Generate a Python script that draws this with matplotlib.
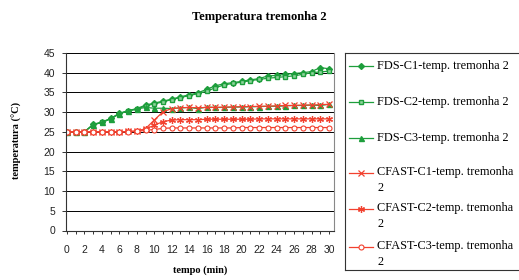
"""Temperatura tremonha 2: FDS vs CFAST, three cases each."""

import matplotlib

matplotlib.use("Agg")
import matplotlib.pyplot as plt

tempo = list(range(31))

fds_c1 = [25, 25, 25, 26.9, 27.5, 28.4, 29.7, 30.4, 30.9, 31.8, 32.3, 32.8, 33.3, 33.9, 34.4, 34.9,
          35.8, 36.7, 37.2, 37.5, 37.8, 38.2, 38.5, 39.2, 39.3, 39.6, 39.8, 40.0, 40.3, 41.3, 41.0]
fds_c2 = [25, 25, 25, 26.8, 27.4, 28.3, 29.6, 30.3, 30.8, 31.6, 32.1, 32.6, 33.2, 33.7, 34.2, 34.7,
          35.3, 36.2, 36.9, 37.3, 37.6, 38.0, 38.3, 38.6, 38.8, 39.0, 39.2, 39.6, 40.0, 40.2, 40.4]
fds_c3 = [25, 25, 25, 26.8, 27.4, 28.3, 29.6, 30.3, 30.8, 31.2, 31.0, 31.0, 30.9, 31.1, 31.2, 30.9,
          31.3, 31.2, 31.2, 31.3, 31.3, 31.4, 31.4, 31.5, 31.5, 31.6, 31.7, 31.7, 31.8, 31.7, 32.0]
cfast_c1 = [25, 25, 25, 25, 25, 25, 25, 25.1, 25.2, 25.8, 28.0, 30.1, 30.9, 31.1, 31.2, 31.1,
            31.2, 31.2, 31.3, 31.3, 31.4, 31.4, 31.5, 31.5, 31.6, 31.7, 31.7, 31.8, 31.8, 31.9, 32.0]
cfast_c2 = [25, 25, 25, 25, 25, 25, 25, 25.1, 25.2, 25.7, 26.7, 27.6, 28.0, 28.1, 28.1, 28.1,
            28.2, 28.2, 28.2, 28.2, 28.2, 28.2, 28.3, 28.3, 28.3, 28.3, 28.3, 28.3, 28.3, 28.3, 28.3]
cfast_c3 = [25, 25, 25, 25, 25, 25, 25, 25.0, 25.1, 25.4, 25.6, 25.9, 26.0, 26.0, 26.0, 26.0,
            26.0, 26.0, 26.0, 26.0, 26.1, 26.1, 26.1, 26.1, 26.1, 26.1, 26.1, 26.1, 26.1, 26.1, 26.1]

labels = [
    "FDS-C1-temp. tremonha 2",
    "FDS-C2-temp. tremonha 2",
    "FDS-C3-temp. tremonha 2",
    "CFAST-C1-temp. tremonha\n2",
    "CFAST-C2-temp. tremonha\n2",
    "CFAST-C3-temp. tremonha\n2",
]

GREEN = "#1e9e3c"
RED = "#f2412f"
colors = [GREEN, GREEN, GREEN, RED, RED, RED]
markers = [
    dict(marker="D", markersize=3, markerfacecolor=GREEN),
    dict(marker="s", markersize=3.2, markerfacecolor="#8fd49c"),
    dict(marker="^", markersize=3.6, markerfacecolor=GREEN),
    dict(marker="x", markersize=4.5, markeredgewidth=0.9),
    dict(marker=(6, 2, 0), markersize=5, markeredgewidth=0.9),
    dict(marker="o", markersize=3.6, markerfacecolor="white", markeredgewidth=0.8),
]
series = [fds_c1, fds_c2, fds_c3, cfast_c1, cfast_c2, cfast_c3]

W, H = 519, 280
fig = plt.figure(figsize=(W / 100, H / 100), dpi=100)
ax = fig.add_axes([66 / W, 1 - 230.5 / H, (334 - 66) / W, (230.5 - 53) / H])

for vals, c, mk in zip(series, colors, markers):
    ax.plot(tempo, vals, color=c, linewidth=0.9, **mk)

ax.set_xlim(-0.1, 30.57)
ax.set_ylim(0, 45)
ax.set_xticks(range(0, 31, 2))
ax.set_xticks(range(0, 31), minor=True)
ax.set_yticks(range(0, 46, 5))
ax.yaxis.grid(True, color="black", linewidth=0.7)
ax.set_axisbelow(True)
ax.spines["top"].set_visible(False)
ax.spines["right"].set_color("#888888")
ax.spines["left"].set_color("#333333")
ax.spines["bottom"].set_color("#333333")
ax.tick_params(axis="x", which="both", direction="out", length=2.5, width=0.7, color="#333333")
ax.tick_params(axis="x", which="major", pad=8, labelsize=7.5)
ax.tick_params(axis="y", direction="out", length=3, width=0.7, pad=5, labelsize=7.5, color="#333333")
for lab in ax.get_xticklabels() + ax.get_yticklabels():
    lab.set_family("Liberation Sans")
    lab.set_color("#222222")

fig.text(259.5 / W, 1 - 17 / H, "Temperatura tremonha 2", ha="center", va="center",
         family="Liberation Serif", weight="bold", fontsize=9)
fig.text(200 / W, 1 - 270 / H, "tempo (min)", ha="center", va="center",
         family="Liberation Serif", weight="bold", fontsize=7.5)
fig.text(17 / W, 1 - 140 / H, "temperatura (°C)", ha="center", va="center", rotation=90,
         family="Liberation Serif", weight="bold", fontsize=7.5)

# legend box drawn by hand so the handle sits on the first line of wrapped labels
lax = fig.add_axes([345 / W, 1 - 270 / H, (521 - 345) / W, (270 - 53.3) / H])
lax.set_xlim(0, 176)
lax.set_ylim(216.7, 0)
lax.set_xticks([])
lax.set_yticks([])
for sp in lax.spines.values():
    sp.set_color("#333333")
    sp.set_linewidth(0.8)
entry_y = [12.7, 48.7, 84.7, 119.7, 155.7, 193.7]
for y, lab, c, mk in zip(entry_y, labels, colors, markers):
    lax.plot([4, 28], [y, y], color=c, linewidth=0.9)
    lax.plot([16], [y], color=c, linestyle="none", **mk)
    lax.text(32, y - 6.5, lab, ha="left", va="top", family="Liberation Serif",
             fontsize=8.8, linespacing=1.35)

fig.savefig("out.png", dpi=100)
